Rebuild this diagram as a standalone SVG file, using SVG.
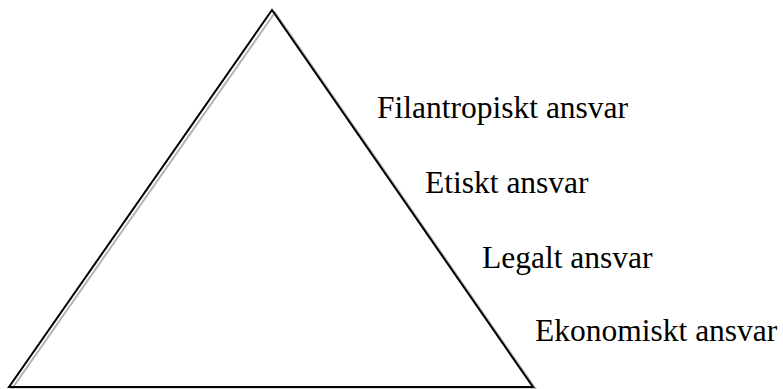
<svg xmlns="http://www.w3.org/2000/svg" width="783" height="389" viewBox="0 0 783 389">
  <style>
    .lbl { font-family: "Liberation Serif", "Times New Roman", serif; font-size: 31.5px; fill: #000; }
    .edge { fill: none; stroke: #000; stroke-width: 2; stroke-linejoin: miter; }
    .shadow { fill: none; stroke: #b4b4b4; stroke-width: 2; }
  </style>
  <rect width="783" height="389" fill="#fff"/>
  <g id="pyramid">
    <polygon class="shadow" points="275,12.5 11.5,389.5 536,389.5"/>
    <polygon class="edge" points="272,10 9,387 533,387"/>
  </g>
  <g id="filantropiskt">
    <text class="lbl" x="377" y="118">Filantropiskt ansvar</text>
  </g>
  <g id="etiskt">
    <text class="lbl" x="425" y="193">Etiskt ansvar</text>
  </g>
  <g id="legalt">
    <text class="lbl" x="482" y="268">Legalt ansvar</text>
  </g>
  <g id="ekonomiskt">
    <text class="lbl" x="535" y="341">Ekonomiskt ansvar</text>
  </g>
</svg>
